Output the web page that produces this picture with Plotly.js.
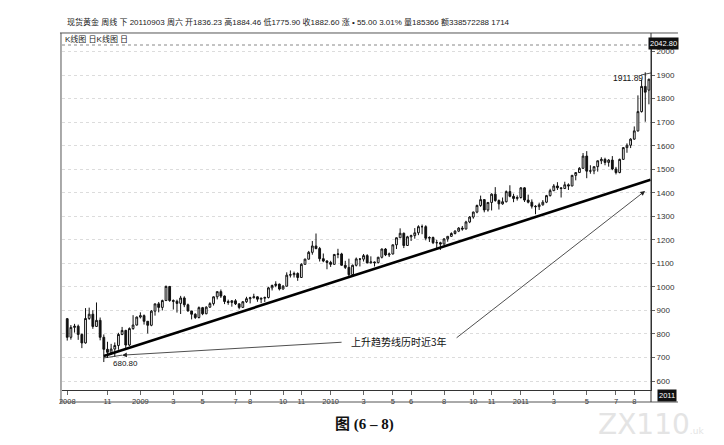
<!DOCTYPE html>
<html>
<head>
<meta charset="utf-8">
<script src="https://cdn.plot.ly/plotly-3.0.1.min.js"></script>
<style>html,body{margin:0;padding:0;background:#fff;}#chart{width:724px;height:445px;}</style>
</head>
<body>
<div id="chart"></div>
<script>
// Weekly bars (week ending dates)
const weeks = [
'2008-08-16','2008-08-23','2008-08-30','2008-09-06','2008-09-13','2008-09-20','2008-09-27','2008-10-04','2008-10-11','2008-10-18','2008-10-25','2008-11-01','2008-11-08','2008-11-15','2008-11-22','2008-11-29','2008-12-06','2008-12-13','2008-12-20','2008-12-27',
'2009-01-03','2009-01-10','2009-01-17','2009-01-24','2009-01-31','2009-02-07','2009-02-14','2009-02-21','2009-02-28','2009-03-07','2009-03-14','2009-03-21','2009-03-28','2009-04-04','2009-04-11','2009-04-18','2009-04-25','2009-05-02','2009-05-09','2009-05-16','2009-05-23','2009-05-30','2009-06-06','2009-06-13','2009-06-20','2009-06-27','2009-07-04','2009-07-11','2009-07-18','2009-07-25','2009-08-01','2009-08-08','2009-08-15','2009-08-22','2009-08-29','2009-09-05','2009-09-12','2009-09-19','2009-09-26','2009-10-03','2009-10-10','2009-10-17','2009-10-24','2009-10-31','2009-11-07','2009-11-14','2009-11-21','2009-11-28','2009-12-05','2009-12-12','2009-12-19','2009-12-26',
'2010-01-02','2010-01-09','2010-01-16','2010-01-23','2010-01-30','2010-02-06','2010-02-13','2010-02-20','2010-02-27','2010-03-06','2010-03-13','2010-03-20','2010-03-27','2010-04-03','2010-04-10','2010-04-17','2010-04-24','2010-05-01','2010-05-08','2010-05-15','2010-05-22','2010-05-29','2010-06-05','2010-06-12','2010-06-19','2010-06-26','2010-07-03','2010-07-10','2010-07-17','2010-07-24','2010-07-31','2010-08-07','2010-08-14','2010-08-21','2010-08-28','2010-09-04','2010-09-11','2010-09-18','2010-09-25','2010-10-02','2010-10-09','2010-10-16','2010-10-23','2010-10-30','2010-11-06','2010-11-13','2010-11-20','2010-11-27','2010-12-04','2010-12-11','2010-12-18','2010-12-25',
'2011-01-01','2011-01-08','2011-01-15','2011-01-22','2011-01-29','2011-02-05','2011-02-12','2011-02-19','2011-02-26','2011-03-05','2011-03-12','2011-03-19','2011-03-26','2011-04-02','2011-04-09','2011-04-16','2011-04-23','2011-04-30','2011-05-07','2011-05-14','2011-05-21','2011-05-28','2011-06-04','2011-06-11','2011-06-18','2011-06-25','2011-07-02','2011-07-09','2011-07-16','2011-07-23','2011-07-30','2011-08-06','2011-08-13','2011-08-20','2011-08-27','2011-09-03'
];

const opens = [
865,786,828,833,798,762,866,884,832,858,786,735,722,736,751,798,815,753,823,838,
872,878,854,837,897, 928,913,942,1002, 942,939,930,953, 924,898,884,870, 912,886,914,929,958, 980,961,938,934, 941,928,913,937, 950,954,958,948,952, 955,996,1006,1012, 991,1003,1050,1052,1057, 1040,1096,1118,1147, 1174,1163,1120,1110,
1104,1096,1138,1140,1092, 1083,1052,1092,1119, 1118,1133,1102,1106, 1103,1126,1161,1136, 1140,1179,1209,1228,1176, 1213,1218,1230,1256, 1256,1207,1210,1188,1188, 1182,1204,1215,1227, 1237,1250,1246,1276, 1297,1318,1346,1371,1327, 1359,1394,1367,1353, 1362,1405,1385,1376,
1380,1421,1369,1360,1343, 1341,1349,1360,1388, 1409,1429,1421,1418, 1434,1429,1474,1486,1504, 1556,1492,1493,1511, 1536,1542,1529,1539, 1501,1486,1542,1592,1602, 1628,1663,1745,1852, 1836.23
];

const highs = [
868,838,843,840,802,910,912,901,934,870,798,767,758,764,805,830,818,828,880,874,
892,883,855,902,929, 936,946,1006,1004, 947,946,962,960, 929,898,888,917, 915,918,935,960,980, 989,964,946,944, 948,929,940,958, 958,971,960,953,959, 1000,1010,1024,1014, 1008,1062,1070,1065,1062, 1101,1120,1153,1195, 1227,1170,1142,1114,
1111,1140,1162,1145,1111, 1120,1095,1125,1122, 1140,1139,1130,1108, 1128,1163,1165,1146, 1180,1210,1249,1231,1217, 1222,1250,1262,1265, 1262,1215,1214,1200,1192, 1207,1215,1232,1241, 1254,1259,1281,1301, 1320,1350,1388,1373,1360, 1398,1424,1372,1380, 1410,1432,1396,1389,
1424,1424,1392,1372,1347, 1358,1369,1391,1417, 1437,1445,1423,1447, 1440,1476,1487,1509,1569, 1577,1517,1511,1537, 1551,1549,1543,1556, 1510,1545,1594,1610,1632, 1682,1814,1881,1911.89, 1884.46
];

const lows = [
772,776,806,775,740,759,860,822,830,773,680.8,698,712,703,733,795,740,749,818,836,
866,840,802,833,878, 892,900,940,937, 904,891,885,914, 895,862,864,866, 880,884,911,921,947, 953,927,924,916, 923,905,912,932, 930,951,937,931,936, 951,985,999,985, 989,1002,1040,1040,1026, 1040,1095,1116,1137, 1160,1108,1105,1075,
1085,1095,1122,1090,1076, 1044,1050,1087,1087, 1108,1100,1100,1087, 1100,1121,1131,1127, 1138,1161,1208,1165,1174, 1195,1205,1220,1224, 1198,1191,1182,1157,1157, 1180,1192,1213,1223, 1233,1239,1245,1271, 1290,1313,1340,1317,1320, 1325,1362,1329,1349, 1359,1381,1360,1367,
1375,1361,1355,1333,1309, 1327,1345,1356,1384, 1407,1412,1380,1416, 1412,1428,1453,1485,1503, 1462,1481,1479,1490, 1522,1517,1511,1496, 1478,1483,1540,1570,1590, 1625,1660,1741,1702, 1775.90
];

const closes = [
786,828,833,798,762,866,884,832,858,786,735,722,736,751,798,815,753,823,838,872,
878,854,837,897,928, 913,942,1002,942, 939,930,953,924, 898,884,870,912, 886,914,929,958,980, 961,938,934,941, 928,913,937,950, 954,958,948,952,955, 996,1006,1012,991, 1003,1050,1052,1057,1040, 1096,1118,1147,1174, 1163,1120,1110,1104,
1096,1138,1140,1092,1083, 1052,1092,1119,1118, 1133,1102,1106,1103, 1126,1161,1136,1140, 1179,1209,1228,1176,1213, 1218,1230,1256,1256, 1207,1210,1188,1188,1182, 1204,1215,1227,1237, 1250,1246,1276,1297, 1318,1346,1371,1327,1359, 1394,1367,1353,1362, 1405,1385,1376,1380,
1421,1369,1360,1343,1341, 1349,1360,1388,1409, 1429,1421,1418,1434, 1429,1474,1486,1504,1556, 1492,1493,1511,1536, 1542,1529,1539,1501, 1486,1542,1592,1602,1628, 1663,1745,1852,1827.6, 1882.60
];

// Axis tick labels
const xTickDates = ['2008-08-16','2008-11-01','2009-01-03','2009-03-07','2009-05-02','2009-07-04','2009-08-01','2009-10-03','2009-11-07','2010-01-02','2010-03-06','2010-05-01','2010-06-05','2010-08-07','2010-10-02','2010-11-06','2011-01-01','2011-03-05','2011-05-07','2011-07-02','2011-08-06'];
const xTickText  = ['2008','11','2009','3','5','7','8','10','11','2010','3','5','6','8','10','11','2011','3','5','7','8'];
const yTickVals = [600,700,800,900,1000,1100,1200,1300,1400,1500,1600,1700,1800,1900,2000];

// Trend line (from the Oct-2008 low to the last week)
const trendDates = ['2008-10-25','2011-09-06'];
const trendValues = [706, 1455];

const headerText = '现货黄金 周线 下 20110903 周六 开1836.23 高1884.46 低1775.90 收1882.60 涨 • 55.00 3.01% 量185366 额338572288 1714';

const NARROW = 'Liberation Sans Narrow, Arial Narrow, Liberation Sans, Noto Sans CJK SC, sans-serif';

const traces = [
  {
    type: 'candlestick', x: weeks, open: opens, high: highs, low: lows, close: closes,
    increasing: {line: {color: '#111', width: 1}, fillcolor: '#ffffff'},
    decreasing: {line: {color: '#111', width: 1}, fillcolor: '#111111'},
    whiskerwidth: 0, hoverinfo: 'skip', showlegend: false
  },
  {
    type: 'scatter', mode: 'lines', x: trendDates, y: trendValues,
    line: {color: '#000', width: 2.6}, hoverinfo: 'skip', showlegend: false
  }
];

const layout = {
  width: 724, height: 445,
  margin: {l: 62, r: 73, t: 45, b: 55},
  paper_bgcolor: '#ffffff', plot_bgcolor: '#ffffff',
  showlegend: false,
  font: {family: NARROW, size: 8, color: '#222'},
  xaxis: {
    type: 'date', range: ['2008-08-06', '2011-09-07'],
    rangeslider: {visible: false},
    tickmode: 'array', tickvals: xTickDates, ticktext: xTickText,
    showgrid: false, zeroline: false,
    showline: true, linecolor: '#333', linewidth: 1,
    ticks: 'outside', ticklen: 4, tickcolor: '#666',
    tickfont: {size: 7.5, family: NARROW, color: '#333'}
  },
  yaxis: {
    side: 'right', range: [562, 2028],
    tickmode: 'array', tickvals: yTickVals,
    showgrid: true, gridcolor: '#dcdcdc', griddash: 'dot', gridwidth: 1,
    zeroline: false, showline: true, linecolor: '#333', linewidth: 1,
    ticks: 'outside', ticklen: 3, tickcolor: '#666',
    tickfont: {size: 8, family: NARROW, color: '#333'}
  },
  shapes: [
    {type: 'line', xref: 'paper', yref: 'paper', x0: -0.0034, x1: 1.0458, y0: 1.0348, y1: 1.0348, line: {color: '#555', width: 1}},
    {type: 'line', xref: 'paper', yref: 'paper', x0: -0.0017, x1: -0.0017, y0: -0.0348, y1: 1.0348, line: {color: '#555', width: 1}},
    {type: 'line', xref: 'paper', yref: 'paper', x0: -0.0034, x1: 1.0458, y0: -0.0348, y1: -0.0348, line: {color: '#555', width: 1}},
    {type: 'line', xref: 'paper', yref: 'paper', x0: 1, x1: 1, y0: -0.0348, y1: 1.0348, line: {color: '#333', width: 1}},
    // dotted top edge of the plot area
    {type: 'line', xref: 'paper', yref: 'paper', x0: 0, x1: 1, y0: 1, y1: 1, line: {color: '#888', width: 1, dash: 'dot'}},
    // low marker line
    {type: 'line', xref: 'paper', yref: 'paper', x0: 0.0713, x1: 0.102, y0: 0.093, y1: 0.101, line: {color: '#222', width: 0.8}},
    // 1911.89 pointer
    {type: 'line', xref: 'paper', yref: 'paper', x0: 0.983, x1: 1.0, y0: 0.913, y1: 0.919, line: {color: '#222', width: 0.8}}
  ],
  annotations: [
    {xref: 'paper', yref: 'paper', x: 0.0051, y: 1.0667, xanchor: 'left', yanchor: 'middle', showarrow: false,
     text: headerText, font: {family: NARROW, size: 8, color: '#222'}},
    {xref: 'paper', yref: 'paper', x: 0.0017, y: 1.017, xanchor: 'left', yanchor: 'middle', showarrow: false,
     text: 'K线图 日K线图 日', font: {family: NARROW, size: 8, color: '#222'}},
    {xref: 'paper', yref: 'paper', x: 1.022, y: 1.003, xanchor: 'center', yanchor: 'middle', showarrow: false,
     text: '2042.80', bgcolor: '#111', borderpad: 1, font: {family: NARROW, size: 7.5, color: '#fff'}},
    {xref: 'paper', yref: 'paper', x: 1.027, y: -0.0145, xanchor: 'center', yanchor: 'middle', showarrow: false,
     text: '2011', bgcolor: '#111', borderpad: 1, font: {family: NARROW, size: 7.5, color: '#fff'}},
    {xref: 'paper', yref: 'paper', x: 0.961, y: 0.904, xanchor: 'center', yanchor: 'middle', showarrow: false,
     text: '1911.89', font: {family: NARROW, size: 8.5, color: '#111'}},
    {xref: 'paper', yref: 'paper', x: 0.107, y: 0.078, xanchor: 'center', yanchor: 'middle', showarrow: false,
     text: '680.80', font: {family: NARROW, size: 8, color: '#111'}},
    {xref: 'paper', yref: 'paper', x: 0.572, y: 0.142, xanchor: 'center', yanchor: 'middle', showarrow: false,
     text: '上升趋势线历时近3年', font: {family: 'Noto Sans CJK SC, sans-serif', size: 10, color: '#111'}},
    {xref: 'paper', yref: 'paper', x: 0.102, y: 0.101, showarrow: true, text: '', ax: 221, ay: -13,
     arrowhead: 2, arrowsize: 1.2, arrowwidth: 0.8, arrowcolor: '#222'},
    {xref: 'paper', yref: 'paper', x: 0.990, y: 0.577, showarrow: true, text: '', ax: -190, ay: 148,
     arrowhead: 2, arrowsize: 1.2, arrowwidth: 0.8, arrowcolor: '#222'},
    {xref: 'paper', yref: 'paper', x: 0.514, y: -0.101, xanchor: 'center', yanchor: 'middle', showarrow: false,
     text: '<b>图 (6 – 8)</b>', font: {family: 'Liberation Serif, Noto Sans CJK SC, serif', size: 15, color: '#111'}},
    {xref: 'paper', yref: 'paper', x: 1.0, y: -0.10, xanchor: 'center', yanchor: 'middle', showarrow: false,
     text: 'ZX110<span style="font-size:9px">.uk</span>', font: {family: 'DejaVu Sans, sans-serif', size: 28, color: '#e4e4e4'}}
  ]
};

Plotly.newPlot('chart', traces, layout, {staticPlot: true, displayModeBar: false});
</script>
</body>
</html>
